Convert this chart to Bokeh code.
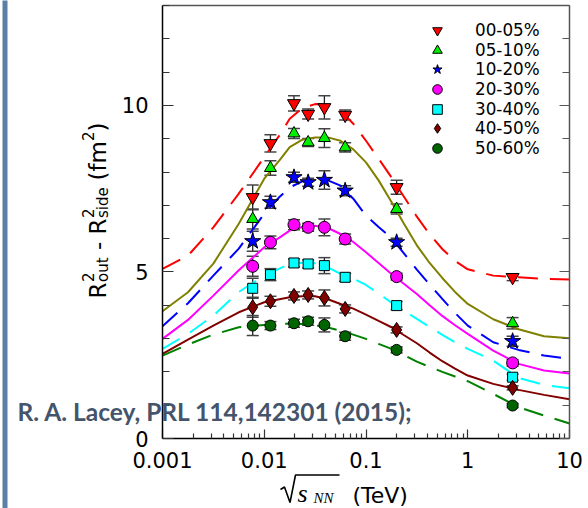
import math
from bokeh.plotting import figure
from bokeh.models import (Range1d, FixedTicker, LinearAxis, LogAxis, Whisker, TeeHead, ColumnDataSource,
                          Label, Legend, LegendItem, BoxAnnotation, PolyAnnotation, CustomJSTickFormatter)
from bokeh.embed import file_html
from bokeh.resources import INLINE

# ---------------- data ----------------
energy_tev = [0.0077, 0.0115, 0.0196, 0.027, 0.039, 0.0624, 0.200, 2.76]

c00_05 = [7.24, 8.86, 10.06, 9.74, 9.94, 9.71, 7.54, 4.84]
c05_10 = [6.59, 8.12, 9.16, 8.89, 9.02, 8.74, 6.89, 3.46]
c10_20 = [5.92, 7.09, 7.84, 7.69, 7.76, 7.44, 5.89, 2.92]
c20_30 = [5.17, 5.89, 6.42, 6.34, 6.34, 5.99, 4.86, 2.27]
c30_40 = [4.51, 4.92, 5.27, 5.24, 5.19, 4.84, 3.99, 1.84]
c40_50 = [3.94, 4.12, 4.28, 4.31, 4.22, 3.89, 3.26, 1.52]
c50_60 = [3.39, 3.39, 3.46, 3.52, 3.41, 3.07, 2.66, 0.99]

e00_05 = [0.37, 0.26, 0.23, 0.15, 0.35, 0.15, 0.21, 0.10]
e05_10 = [0.30, 0.22, 0.15, 0.12, 0.28, 0.14, 0.15, 0.17]
e10_20 = [0.30, 0.18, 0.15, 0.12, 0.28, 0.15, 0.12, 0.15]
e20_30 = [0.30, 0.19, 0.15, 0.12, 0.25, 0.15, 0.10, 0.10]
e30_40 = [0.30, 0.18, 0.12, 0.12, 0.24, 0.12, 0.12, 0.09]
e40_50 = [0.30, 0.15, 0.12, 0.12, 0.24, 0.12, 0.09, 0.06]
e50_60 = [0.30, 0.12, 0.12, 0.12, 0.21, 0.12, 0.09, 0.06]

# fit curves
curve_x = [0.001, 0.00178, 0.00316, 0.00562, 0.01, 0.0141, 0.0178, 0.0237, 0.0316, 0.0422,
           0.0562, 0.075, 0.1, 0.133, 0.178, 0.237, 0.316, 0.422, 0.562, 0.75, 1.0, 1.78, 3.16, 5.62, 10.0]
fit00_05 = [5.09, 5.49, 6.34, 7.35, 8.45, 9.10, 9.60, 9.92, 10.04, 10.02, 9.84, 9.45, 8.94, 8.40, 7.84, 7.25, 6.66, 6.13, 5.69, 5.33, 5.08, 4.89, 4.84, 4.79, 4.77]
fit05_10 = [3.82, 4.39, 5.25, 6.45, 7.80, 8.35, 8.75, 8.97, 9.04, 9.04, 8.94, 8.68, 8.29, 7.75, 7.10, 6.44, 5.80, 5.27, 4.82, 4.40, 4.04, 3.58, 3.28, 3.07, 3.01]
fit10_20 = [3.37, 4.06, 4.89, 5.70, 6.75, 7.25, 7.54, 7.72, 7.79, 7.75, 7.59, 7.20, 6.69, 6.35, 6.02, 5.55, 5.07, 4.62, 4.19, 3.77, 3.39, 2.89, 2.66, 2.49, 2.39]
fit20_30 = [2.99, 3.56, 4.29, 5.05, 5.74, 6.03, 6.24, 6.35, 6.39, 6.32, 6.14, 5.90, 5.59, 5.27, 4.94, 4.64, 4.34, 4.00, 3.68, 3.40, 3.14, 2.64, 2.24, 2.04, 1.95]
fit30_40 = [2.69, 3.14, 3.69, 4.40, 4.89, 5.10, 5.24, 5.28, 5.26, 5.14, 4.94, 4.80, 4.61, 4.35, 4.08, 3.83, 3.59, 3.35, 3.11, 2.89, 2.69, 2.34, 1.82, 1.61, 1.51]
fit40_50 = [2.54, 2.97, 3.39, 3.79, 4.09, 4.18, 4.24, 4.27, 4.27, 4.18, 4.04, 3.90, 3.72, 3.53, 3.34, 3.10, 2.86, 2.58, 2.32, 2.10, 1.89, 1.64, 1.46, 1.31, 1.18]
fit50_60 = [2.49, 2.82, 3.12, 3.34, 3.41, 3.44, 3.45, 3.44, 3.40, 3.33, 3.24, 3.12, 2.99, 2.84, 2.69, 2.50, 2.31, 2.15, 2.00, 1.86, 1.72, 1.34, 0.94, 0.69, 0.45]

labels = ["00-05%", "05-10%", "10-20%", "20-30%", "30-40%", "40-50%", "50-60%"]
x_tick_vals = [0.001, 0.01, 0.1, 1.0, 10.0]
y_tick_vals = [0, 5, 10]
X_LO, X_HI, Y_LO, Y_HI = 0.001, 10.0, 0.0, 13.0

# ---------------- layout: the frame fills the page; the chart box sits inside ----------------
W, H = 588, 508
BOX_L, BOX_R, BOX_T, BOX_B = 162, 569, 5, 438          # chart box, page pixels
ppd = (BOX_R - BOX_L) / (math.log10(X_HI) - math.log10(X_LO))
ppu = (BOX_B - BOX_T) / (Y_HI - Y_LO)
xr = Range1d(10 ** (math.log10(X_LO) - BOX_L / ppd), 10 ** (math.log10(X_HI) + (W - BOX_R) / ppd))
yr = Range1d(Y_LO - (H - BOX_B) / ppu, Y_HI + BOX_T / ppu)

p = figure(width=W, height=H, x_axis_type="log", output_backend="svg", toolbar_location=None,
           x_range=xr, y_range=yr, x_axis_location=None, y_axis_location=None)
p.min_border = 0
p.grid.visible = False
p.outline_line_color = None
p.background_fill_color = "white"
p.border_fill_color = "white"

TICK_FONT = "DejaVu Sans"
x_minor = [k * 10.0 ** d for d in range(-3, 1) for k in range(2, 10)]
y_minor = list(range(0, 14))

xa = LogAxis(fixed_location=Y_LO, bounds=(X_LO, X_HI),
             ticker=FixedTicker(ticks=x_tick_vals, minor_ticks=x_minor),
             formatter=CustomJSTickFormatter(code="return tick.toString();"),
             major_tick_in=9, major_tick_out=0, minor_tick_in=5, minor_tick_out=0,
             major_label_standoff=13)
ya = LinearAxis(fixed_location=X_LO, bounds=(Y_LO, Y_HI),
                ticker=FixedTicker(ticks=y_tick_vals, minor_ticks=y_minor),
                major_tick_in=11, major_tick_out=0, minor_tick_in=7, minor_tick_out=0,
                major_label_standoff=14)
for ax in (xa, ya):
    ax.axis_line_color = "black"
    ax.axis_line_width = 1.5
    ax.major_tick_line_color = "#333333"
    ax.minor_tick_line_color = "#333333"
    ax.major_tick_line_width = 1.2
    ax.minor_tick_line_width = 1.2
    ax.major_label_text_font = TICK_FONT
    ax.major_label_text_font_size = "21px"
    ax.major_label_text_color = "black"
p.add_layout(xa, "below")
p.add_layout(ya, "left")

# right edge: minor ticks, and longer ticks at the labelled values (no labels)
ra1 = LinearAxis(fixed_location=X_HI, bounds=(Y_LO, Y_HI),
                 ticker=FixedTicker(ticks=[], minor_ticks=y_minor),
                 axis_line_color="#555555", axis_line_width=1.5,
                 minor_tick_in=7, minor_tick_out=0, minor_tick_line_color="#555555",
                 minor_tick_line_width=1.2)
ra2 = LinearAxis(fixed_location=X_HI, bounds=(Y_LO, Y_HI),
                 ticker=FixedTicker(ticks=[], minor_ticks=y_tick_vals),
                 axis_line_color=None,
                 minor_tick_in=10, minor_tick_out=0, minor_tick_line_color="#555555",
                 minor_tick_line_width=1.2)
ta = LogAxis(fixed_location=Y_HI, bounds=(X_LO, X_HI),
             ticker=FixedTicker(ticks=[], minor_ticks=[]),
             axis_line_color="#555555", axis_line_width=1.5)
p.add_layout(ra1, "right")
p.add_layout(ra2, "right")
p.add_layout(ta, "above")

series = [
    (c00_05, e00_05, fit00_05, "inverted_triangle", "#ff0000", 13, "#ff0000", "dashed"),
    (c05_10, e05_10, fit05_10, "triangle", "#00ee00", 12, "#808000", "solid"),
    (c10_20, e10_20, fit10_20, "star", "#0000ff", 17, "#0000ff", "dashed"),
    (c20_30, e20_30, fit20_30, "circle", "#ff00ff", 12, "#ff00ff", "solid"),
    (c30_40, e30_40, fit30_40, "square", "#00ffff", 10, "#00ffff", "dashed"),
    (c40_50, e40_50, fit40_50, "diamond", "#800000", 15, "#800000", "solid"),
    (c50_60, e50_60, fit50_60, "circle", "#006400", 11, "#008000", "dashed"),
]

for vals, errs, fit, mk, col, sz, lcol, dash in series:
    p.line(curve_x, fit, line_color=lcol, line_width=2,
           line_dash=("20 12" if dash == "dashed" else "solid"))

# one small legend per row: rows centred at these page y positions
row_centres = [30, 49.7, 69.3, 89, 108.7, 128.3, 148]
LG = 24  # legend glyph box
for (vals, errs, fit, mk, col, sz, lcol, dash), lab_txt, yc in zip(series, labels, row_centres):
    src = ColumnDataSource(dict(x=energy_tev, y=vals,
                                lo=[v - e for v, e in zip(vals, errs)],
                                hi=[v + e for v, e in zip(vals, errs)]))
    w = Whisker(base="x", lower="lo", upper="hi", source=src, line_color="#222222", line_width=1.3,
                upper_head=TeeHead(size=12, line_color="#444444", line_width=1.5),
                lower_head=TeeHead(size=12, line_color="#444444", line_width=1.5))
    p.add_layout(w)
    r = p.scatter("x", "y", source=src, marker=mk, size=sz, fill_color=col,
                  line_color="black", line_width=1)
    leg = Legend(items=[LegendItem(label=lab_txt, renderers=[r])],
                 location=(437 - LG / 2, H - yc - LG / 2), padding=0, margin=0,
                 border_line_color=None, background_fill_alpha=0,
                 glyph_width=LG, glyph_height=LG, label_height=LG, spacing=0, label_standoff=26,
                 label_text_font=TICK_FONT, label_text_font_size="16.8px", label_text_color="black")
    p.add_layout(leg)


def lab(text, cx, cy, size, font="Liberation Sans", style="normal", angle=0.0, color="black"):
    """Text placed at page pixel (cx, cy) = left end of its baseline."""
    p.add_layout(Label(x=cx, y=H - cy, x_units="screen", y_units="screen", text=text,
                       text_font=font, text_font_size=f"{size}px", text_font_style=style,
                       text_color=color, angle=angle, text_align="left",
                       text_baseline="alphabetic"))


# y-axis title (rotated, reading upwards), built from pieces
A = math.pi / 2
YF, YS = 23, 15
lab("R", 97, 298, YF, font=TICK_FONT, angle=A)
lab("2", 87, 281.5, YS, font=TICK_FONT, angle=A)
lab("out", 102, 281.5, YS, font=TICK_FONT, angle=A)
lab("-", 97, 249.5, YF, font=TICK_FONT, angle=A)
lab("R", 97, 234, YF, font=TICK_FONT, angle=A)
lab("2", 87, 217.5, YS, font=TICK_FONT, angle=A)
lab("side", 102, 217.5, YS, font=TICK_FONT, angle=A)
lab("(fm", 97, 180, YF, font=TICK_FONT, angle=A)
lab("2", 87, 140.5, YS, font=TICK_FONT, angle=A)
lab(")", 97, 131, YF, font=TICK_FONT, angle=A)

# x-axis title: radical sign drawn as a stroke, then the texts
rad = [(280, 489), (284, 486.5), (289.5, 502), (295, 474.5), (339, 474.5)]
rad_path = rad + rad[::-1][1:-1]
p.add_layout(PolyAnnotation(xs=[x for x, _ in rad_path], ys=[H - y for _, y in rad_path],
                            xs_units="screen", ys_units="screen",
                            fill_alpha=0, line_color="black", line_alpha=1.0, line_width=1.6))
lab("s", 297, 493, 26, font="Liberation Serif", style="italic")
lab("NN", 313, 497.5, 15, font="Liberation Serif", style="italic")
lab("(TeV)", 352, 494.5, 22, font=TICK_FONT)

# citation
lab("R. A. Lacey, PRL 114,142301 (2015);", 17, 411, 24.5, font="Lato", style="bold", color="#44546a")

# left blue bar
p.add_layout(BoxAnnotation(left=2, right=7, top=H + 5, bottom=-5,
                           left_units="screen", right_units="screen", top_units="screen",
                           bottom_units="screen", fill_color="#5b7fa6", fill_alpha=1, line_color=None))

open("out.html", "w").write(file_html(p, INLINE))
